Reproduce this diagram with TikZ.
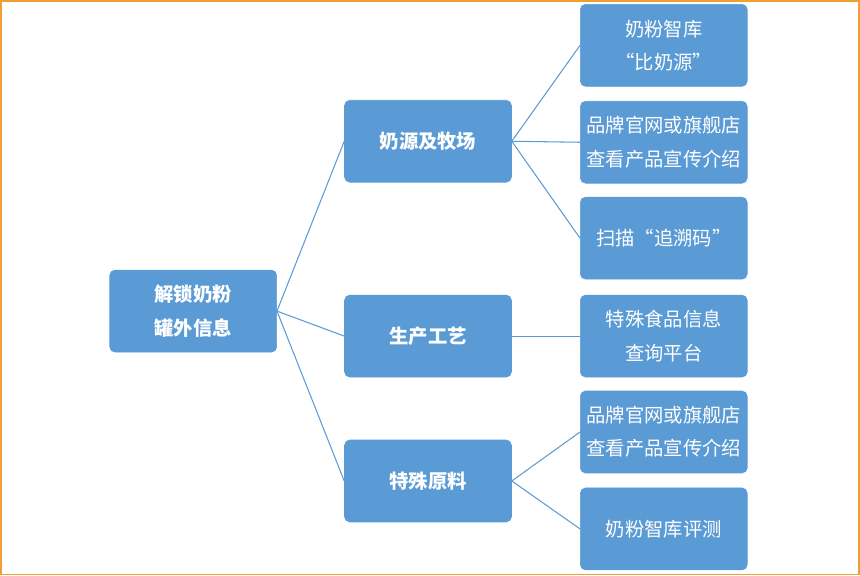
\documentclass[tikz,border=0pt]{standalone}
\usepackage{fontspec}
\newfontfamily\cjk{Noto Sans CJK SC}
\usetikzlibrary{arrows.meta, positioning}
\definecolor{boxblue}{HTML}{5B9BD5}
\definecolor{frameorange}{HTML}{F0A030}

\begin{document}
\begin{tikzpicture}[
    x=0.02cm, y=-0.02cm,
    every node/.style={fill=boxblue, draw=boxblue, rounded corners=3pt, align=center,
        text=white, minimum width=3.34cm, minimum height=1.64cm, inner sep=2pt,
        font=\cjk\fontsize{11}{19}\selectfont},
    head/.style={font=\cjk\bfseries\fontsize{11}{19}\selectfont},
    link/.style={draw=boxblue, semithick}
]

% frame
\draw[frameorange, line width=1pt] (0.5,0.5) rectangle (859.5,574.5);
\useasboundingbox (0,0) rectangle (860,575);

% Root
\node[head] (root) at (193,311) {解锁奶粉\\罐外信息};

% Middle column
\node[head] (m1) at (428,141) {奶源及牧场};
\node[head] (m2) at (428,336) {生产工艺};
\node[head] (m3) at (428,481) {特殊原料};

% Right column
\node (r1) at (664,45) {奶粉智库\\“比奶源”};
\node (r2) at (664,142) {品牌官网或旗舰店\\查看产品宣传介绍};
\node (r3) at (664,238) {扫描“追溯码”};
\node (r4) at (664,336) {特殊食品信息\\查询平台};
\node (r5) at (664,432) {品牌官网或旗舰店\\查看产品宣传介绍};
\node (r6) at (664,529) {奶粉智库评测};

% Connectors
\foreach \m in {m1,m2,m3}
    \draw[link] (root.east) -- (\m.west);
\foreach \r in {r1,r2,r3}
    \draw[link] (m1.east) -- (\r.west);
\draw[link] (m2.east) -- (r4.west);
\foreach \r in {r5,r6}
    \draw[link] (m3.east) -- (\r.west);
\end{tikzpicture}
\end{document}
